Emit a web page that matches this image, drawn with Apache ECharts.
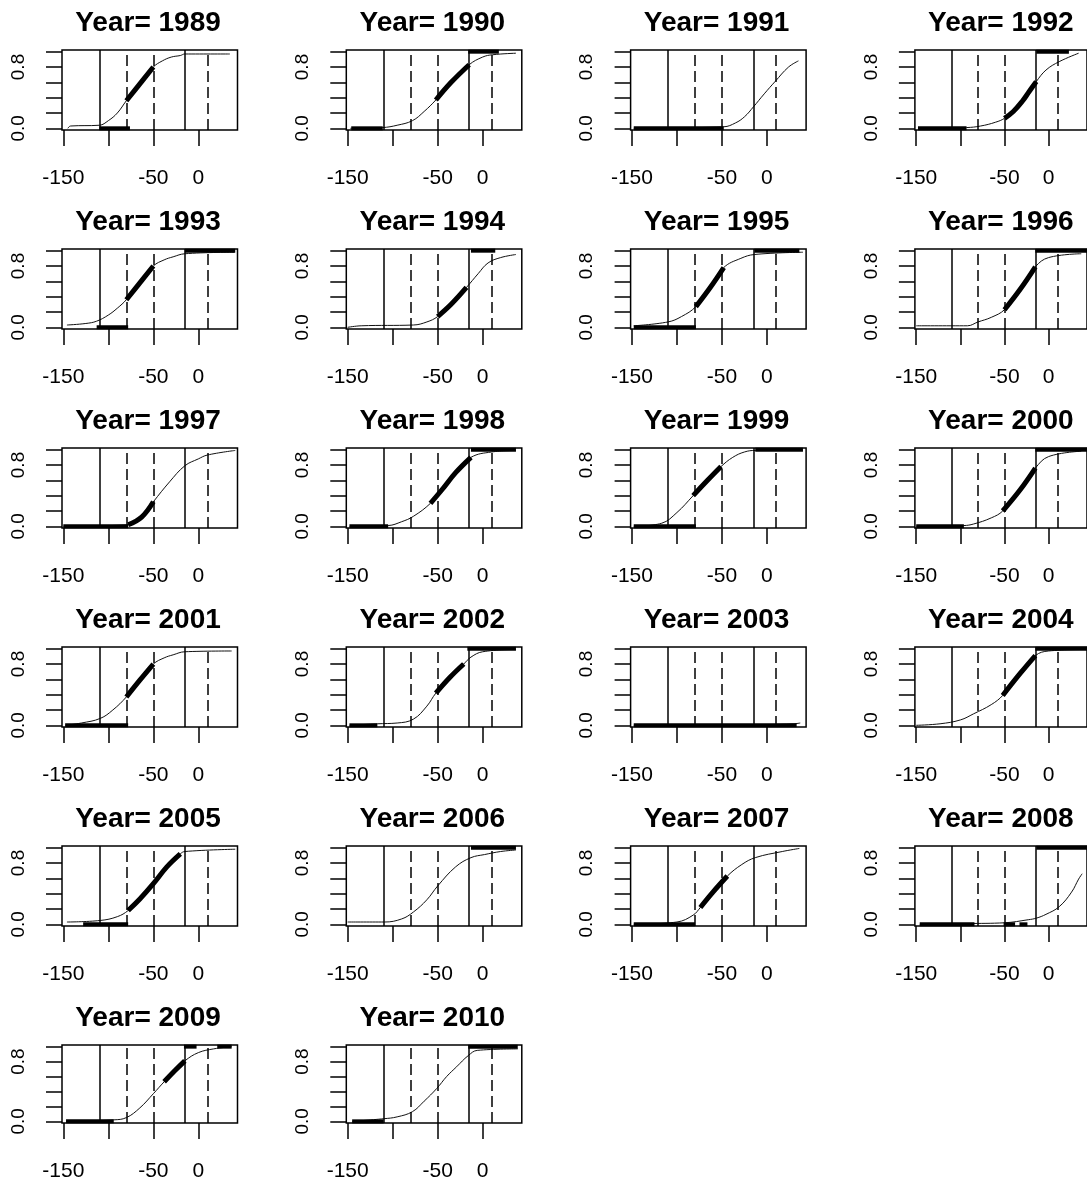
<!DOCTYPE html>
<html>
<head>
<meta charset="utf-8">
<script src="https://cdn.jsdelivr.net/npm/echarts@6/dist/echarts.min.js"></script>
<style>
  body { margin: 0; background: #fff; }
  #main1 { width: 1087px; height: 1182px; }
</style>
</head>
<body>
<div id="main1"></div>
<script>
// one panel per year, 4 columns
const years = [1989, 1990, 1991, 1992, 1993, 1994, 1995, 1996, 1997, 1998, 1999,
               2000, 2001, 2002, 2003, 2004, 2005, 2006, 2007, 2008, 2009, 2010];

// fitted curve (thin line)
const curvePts = [
  [[-145,0],[-142,0.03],[-110,0.04],[-100,0.1],[-90,0.2],[-80,0.36],[-65,0.58],[-50,0.8],[-40,0.88],[-30,0.93],[-20,0.95],[-15,0.97],[35,0.97]],
  [[-147,0],[-111,0.01],[-95,0.04],[-78,0.1],[-65,0.22],[-52,0.37],[-35,0.6],[-15,0.83],[0,0.93],[11,0.96],[37,0.98]],
  [[-148,0],[-48,0.02],[-35,0.07],[-25,0.15],[-15,0.28],[-3,0.45],[9,0.61],[24,0.8],[35,0.88]],
  [[-148,0],[-93,0.01],[-77,0.03],[-60,0.08],[-50,0.13],[-40,0.22],[-30,0.35],[-22,0.48],[-14,0.61],[-3,0.76],[12,0.87],[34,0.98]],
  [[-146,0.03],[-125,0.05],[-113,0.08],[-100,0.16],[-90,0.25],[-80,0.36],[-65,0.58],[-50,0.8],[-38,0.88],[-28,0.92],[-15,0.96],[40,0.98]],
  [[-150,0],[-135,0.02],[-77,0.03],[-62,0.07],[-50,0.14],[-35,0.3],[-18,0.52],[-5,0.7],[6,0.84],[20,0.91],[37,0.95]],
  [[-148,0.02],[-110,0.07],[-95,0.14],[-79,0.27],[-63,0.52],[-48,0.78],[-29,0.9],[-14,0.95],[40,0.98]],
  [[-150,0.02],[-92,0.02],[-80,0.07],[-65,0.13],[-50,0.23],[-32,0.5],[-15,0.79],[0,0.91],[37,0.96]],
  [[-150,0],[-78,0.02],[-63,0.12],[-50,0.32],[-32,0.58],[-15,0.79],[0,0.88],[10,0.93],[41,0.99]],
  [[-148,0],[-105,0.01],[-90,0.06],[-77,0.13],[-58,0.3],[-45,0.48],[-30,0.7],[-13,0.9],[10,0.97],[37,0.99]],
  [[-148,0],[-117,0.04],[-100,0.18],[-82,0.4],[-66,0.6],[-51,0.78],[-38,0.9],[-25,0.97],[-13,0.99],[40,0.99]],
  [[-150,0],[-96,0.01],[-85,0.03],[-65,0.11],[-52,0.2],[-32,0.48],[-15,0.76],[0,0.91],[37,0.98]],
  [[-148,0],[-130,0.03],[-109,0.09],[-95,0.2],[-80,0.37],[-65,0.59],[-50,0.8],[-38,0.88],[-28,0.92],[-15,0.96],[37,0.97]],
  [[-148,0],[-117,0.02],[-95,0.03],[-77,0.08],[-62,0.25],[-52,0.42],[-36,0.63],[-21,0.8],[-13,0.89],[0,0.96],[37,0.99]],
  [[-148,0],[-48,0],[0,0.01],[30,0.02],[37,0.03]],
  [[-150,0],[-123,0.02],[-100,0.07],[-85,0.15],[-65,0.27],[-52,0.39],[-32,0.68],[-15,0.91],[0,0.97],[44,0.99]],
  [[-146,0.03],[-109,0.05],[-90,0.1],[-78,0.18],[-65,0.33],[-50,0.53],[-35,0.75],[-20,0.92],[-15,0.95],[41,0.98]],
  [[-150,0.03],[-109,0.03],[-90,0.07],[-77,0.16],[-62,0.32],[-50,0.5],[-30,0.75],[-13,0.87],[2,0.91],[20,0.95],[37,0.97]],
  [[-148,0],[-100,0.03],[-82,0.12],[-74,0.22],[-60,0.42],[-44,0.63],[-28,0.78],[-13,0.87],[17,0.95],[36,0.99]],
  [[-146,0],[-92,0.01],[-50,0.02],[-23,0.06],[-14,0.08],[-3,0.13],[12,0.23],[26,0.42],[34,0.59],[38,0.66]],
  [[-147,0],[-94,0.02],[-80,0.05],[-65,0.18],[-50,0.37],[-38,0.53],[-26,0.68],[-15,0.81],[0,0.92],[17,0.97],[37,1]],
  [[-145,0],[-110,0.035],[-95,0.06],[-78,0.13],[-65,0.27],[-51,0.44],[-40,0.6],[-29,0.73],[-16,0.88],[-6,0.95],[39,0.97]]
];

// dense part of the fitted points (thick stroke along the curve)
const fitPts = [
  [[-80,0.36],[-65,0.58],[-50,0.8]],
  [[-52,0.37],[-35,0.6],[-15,0.83]],
  [],
  [[-50,0.13],[-40,0.22],[-30,0.35],[-22,0.48],[-14,0.61]],
  [[-80,0.36],[-65,0.58],[-50,0.8]],
  [[-50,0.14],[-35,0.3],[-18,0.52]],
  [[-79,0.27],[-63,0.52],[-48,0.78]],
  [[-50,0.23],[-32,0.5],[-15,0.79]],
  [[-78,0.02],[-63,0.12],[-50,0.32]],
  [[-58,0.3],[-45,0.48],[-30,0.7],[-13,0.9]],
  [[-82,0.4],[-66,0.6],[-51,0.78]],
  [[-52,0.2],[-32,0.48],[-15,0.76]],
  [[-80,0.37],[-65,0.59],[-50,0.8]],
  [[-52,0.42],[-36,0.63],[-21,0.8]],
  [],
  [[-52,0.39],[-32,0.68],[-15,0.91]],
  [[-78,0.18],[-65,0.33],[-50,0.53],[-35,0.75],[-20,0.92]],
  [],
  [[-74,0.22],[-60,0.42],[-44,0.63]],
  [],
  [[-38,0.53],[-26,0.68],[-15,0.81]],
  []
];

// observed zeros / ones drawn as thick runs [from, to]
const zeroRuns = [
  [[-110,-76]], [[-146,-111]], [[-148,-48]], [[-148,-93]], [[-113,-78]], [],
  [[-148,-79]], [], [[-150,-78]], [[-148,-105]], [[-148,-79]], [[-150,-96]],
  [[-148,-78]], [[-148,-117]], [[-148,33]], [], [[-128,-78]], [],
  [[-148,-80]], [[-146,-84],[-51,-38],[-33,-24]], [[-147,-94]], [[-145,-110]]
];
const oneRuns = [
  [], [[-16,18]], [], [[-14,23]], [[-15,41]], [[-13,14]],
  [[-14,36]], [[-15,44]], [], [[-13,37]], [[-13,40]], [[-15,44]],
  [], [[-17,37]], [], [[-15,44]], [], [[-13,37]],
  [], [[-14,44]], [[-16,-2],[21,37]], [[-16,39]]
];

const solidLines = [-110, -15];
const dashedLines = [-80, -50, 10];
const xTicks = [-150, -100, -50, 0];
const xLabels = [-150, -50, 0];
const yTicks = [0, 0.2, 0.4, 0.6, 0.8, 1];
const yLabels = [0, 0.8];

const FONT = 'Liberation Sans';
let grids = [], xAxes = [], yAxes = [], series = [], texts = [];

years.forEach(function (yr, i) {
    let col = i % 4, row = Math.floor(i / 4);
    let left = 62 + col * 284.3, top = 50 + row * 199;

    grids.push({ left: left, top: top, width: 175.5, height: 80, show: true,
                 borderColor: '#000', borderWidth: 1.5 });

    xAxes.push({
        gridIndex: i, type: 'value', min: -151.5, max: 43.5,
        splitLine: { show: false },
        axisLine: { show: false, onZero: false },
        axisTick: { show: true, length: 16, customValues: xTicks, lineStyle: { color: '#000', width: 1.5 } },
        axisLabel: { customValues: xLabels, color: '#000', fontSize: 21, fontFamily: FONT, margin: 38 }
    });
    yAxes.push({
        gridIndex: i, type: 'value', min: -0.022, max: 1.022,
        splitLine: { show: false },
        axisLine: { show: false, onZero: false },
        axisTick: { show: true, length: 16, customValues: yTicks, lineStyle: { color: '#000', width: 1.5 } },
        axisLabel: { customValues: yLabels, rotate: 90, color: '#000', fontSize: 19, fontFamily: FONT, margin: 34,
                     formatter: function (v) { return v.toFixed(1); } }
    });

    let vlines = solidLines.map(v => ({ xAxis: v, lineStyle: { type: 'solid' } }))
        .concat(dashedLines.map(v => ({ xAxis: v, lineStyle: { type: [11, 5] } })));

    series.push({
        type: 'line', xAxisIndex: i, yAxisIndex: i, data: curvePts[i],
        showSymbol: false, smooth: 0.4, silent: true,
        lineStyle: { color: '#111', width: 1 },
        markLine: { silent: true, symbol: ['none', 'none'], label: { show: false },
                    lineStyle: { color: '#000', width: 1.5 }, data: vlines }
    });
    if (fitPts[i].length) {
        series.push({ type: 'line', xAxisIndex: i, yAxisIndex: i, data: fitPts[i],
            showSymbol: false, smooth: 0.4, silent: true,
            lineStyle: { color: '#000', width: 5 } });
    }
    zeroRuns[i].forEach(function (r) {
        series.push({ type: 'line', xAxisIndex: i, yAxisIndex: i, data: [[r[0], 0], [r[1], 0]],
            showSymbol: false, silent: true, lineStyle: { color: '#000', width: 4 } });
    });
    oneRuns[i].forEach(function (r) {
        series.push({ type: 'line', xAxisIndex: i, yAxisIndex: i, data: [[r[0], 1], [r[1], 1]],
            showSymbol: false, silent: true, lineStyle: { color: '#000', width: 4 } });
    });

    texts.push({ type: 'text', x: left + 86, y: 23 + row * 199,
        style: { text: 'Year= ' + yr, align: 'center', verticalAlign: 'middle',
                 font: 'bold 28px "' + FONT + '"', fill: '#000' } });
});

let chartDom = document.getElementById('main1');
let myChart = echarts.init(chartDom);
myChart.setOption({
    animation: false,
    backgroundColor: '#fff',
    grid: grids,
    xAxis: xAxes,
    yAxis: yAxes,
    series: series,
    graphic: texts
});
</script>
</body>
</html>
